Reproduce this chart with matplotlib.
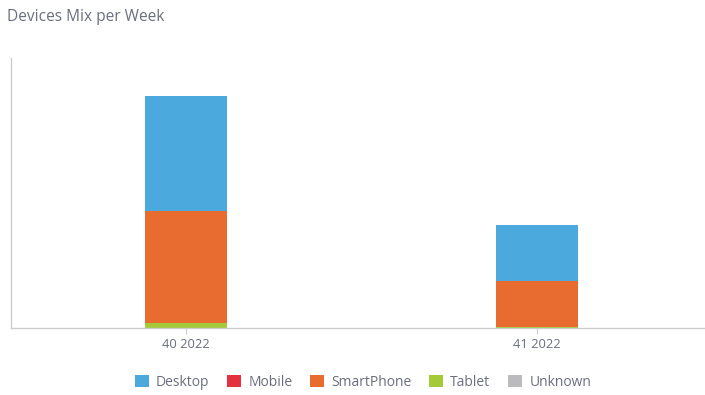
import matplotlib.pyplot as plt
import numpy as np

weeks = ['40 2022', '41 2022']
devices = ['Desktop', 'Mobile', 'SmartPhone', 'Tablet', 'Unknown']
desktop = [115, 56]
mobile = [0, 0]
smartphone = [112, 46]
tablet = [5, 1]
unknown = [0, 0]

colors = ['#4BA9DE', '#E3313F', '#E86C2F', '#A4CA3A', '#BBBBBE']
text_color = '#6B6E7E'

plt.rcParams['font.family'] = ['Open Sans', 'DejaVu Sans']

fig = plt.figure(figsize=(7.05, 3.95), dpi=100)
ax = fig.add_axes([11 / 705, 1 - 328 / 395, 694 / 705, 270 / 395])

x = np.arange(len(weeks))
bottom = np.zeros(len(weeks))
# stacked from the bottom: Tablet, SmartPhone, Mobile, Unknown, Desktop
order = [(3, tablet), (2, smartphone), (1, mobile), (4, unknown), (0, desktop)]
handles = {}
for i, vals in order:
    b = ax.bar(x, vals, 0.234, bottom=bottom, color=colors[i], label=devices[i])
    handles[i] = b
    bottom = bottom + np.array(vals)

ax.set_xlim(-0.4986, 1.4786)
ax.set_ylim(0, 270)
ax.set_xticks(x)
ax.set_xticklabels(weeks, fontsize=9.3, color=text_color)
ax.set_yticks([])
ax.tick_params(axis='x', length=4, color='#CCCCCC', pad=3)
for s in ['top', 'right']:
    ax.spines[s].set_visible(False)
for s in ['left', 'bottom']:
    ax.spines[s].set_color('#CCCCCC')
    ax.spines[s].set_linewidth(1)

fig.text(7 / 705, 1 - 17 / 395, 'Devices Mix per Week', fontsize=11.2,
         color=text_color, va='center', ha='left')

leg = fig.legend([handles[i] for i in range(5)], devices, loc='center',
                 bbox_to_anchor=(0.515, 1 - 382 / 395), ncol=5, frameon=False,
                 fontsize=10, handlelength=1.0, handleheight=1.0,
                 handletextpad=0.5, columnspacing=1.3)
for t in leg.get_texts():
    t.set_color(text_color)

fig.savefig('out.png', dpi=100)
